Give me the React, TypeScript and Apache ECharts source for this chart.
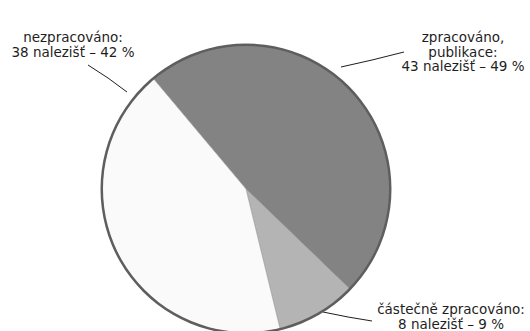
import React, { useEffect, useRef } from "react";
import * as echarts from "echarts";

const categories = ["zpracováno,\npublikace:", "částečně zpracováno:", "nezpracováno:"];
const counts = [43, 8, 38];
const percents = [49, 9, 42];
const colors = ["#838383", "#b4b4b4", "#fafafa"];

// label anchor (center x, top y) and leader line points, per slice
const labelPos = [
  { x: 463, y: 30, line: [[341, 67], [372, 60], [404, 52]] },
  { x: 451, y: 302, line: [[323, 312], [348, 317], [372, 321]] },
  { x: 73, y: 30, line: [[127, 92], [108, 78], [88, 65]] },
];

export default function App() {
  const ref = useRef<HTMLDivElement>(null);
  useEffect(() => {
    document.body.style.margin = "0";
    const chart = echarts.init(ref.current!, null, { renderer: "svg" });
    const center = [246, 189];
    chart.setOption({
      animation: false,
      backgroundColor: "#ffffff",
      series: [
        {
          type: "pie",
          center,
          radius: 144,
          startAngle: 130,
          clockwise: true,
          data: categories.map((c, i) => ({
            name: c,
            value: counts[i],
            itemStyle: { color: colors[i] },
          })),
          itemStyle: { borderColor: "#9a9a9a", borderWidth: 0.6 },
          label: {
            show: true,
            formatter: (p: any) =>
              `${p.name}\n${counts[p.dataIndex]} nalezišť – ${percents[p.dataIndex]} %`,
            fontFamily: "DejaVu Sans",
            fontSize: 13.5,
            lineHeight: 14.5,
            color: "#1e1e1e",
            align: "center",
            overflow: "none",
          },
          labelLine: { show: true, lineStyle: { color: "#1e1e1e", width: 1 } },
          labelLayout: (p: any) => {
            const lp = labelPos[p.dataIndex];
            return {
              x: lp.x,
              y: lp.y,
              align: "center",
              verticalAlign: "top",
              labelLinePoints: lp.line,
            };
          },
          emphasis: { disabled: true },
          z: 2,
        },
        {
          type: "pie",
          center,
          radius: [143, 145.5],
          silent: true,
          label: { show: false },
          labelLine: { show: false },
          data: [{ value: 1, itemStyle: { color: "#5e5e5e" } }],
          emphasis: { disabled: true },
          z: 3,
        },
      ],
    });
    return () => chart.dispose();
  }, []);
  return <div ref={ref} style={{ width: 530, height: 331 }} />;
}
